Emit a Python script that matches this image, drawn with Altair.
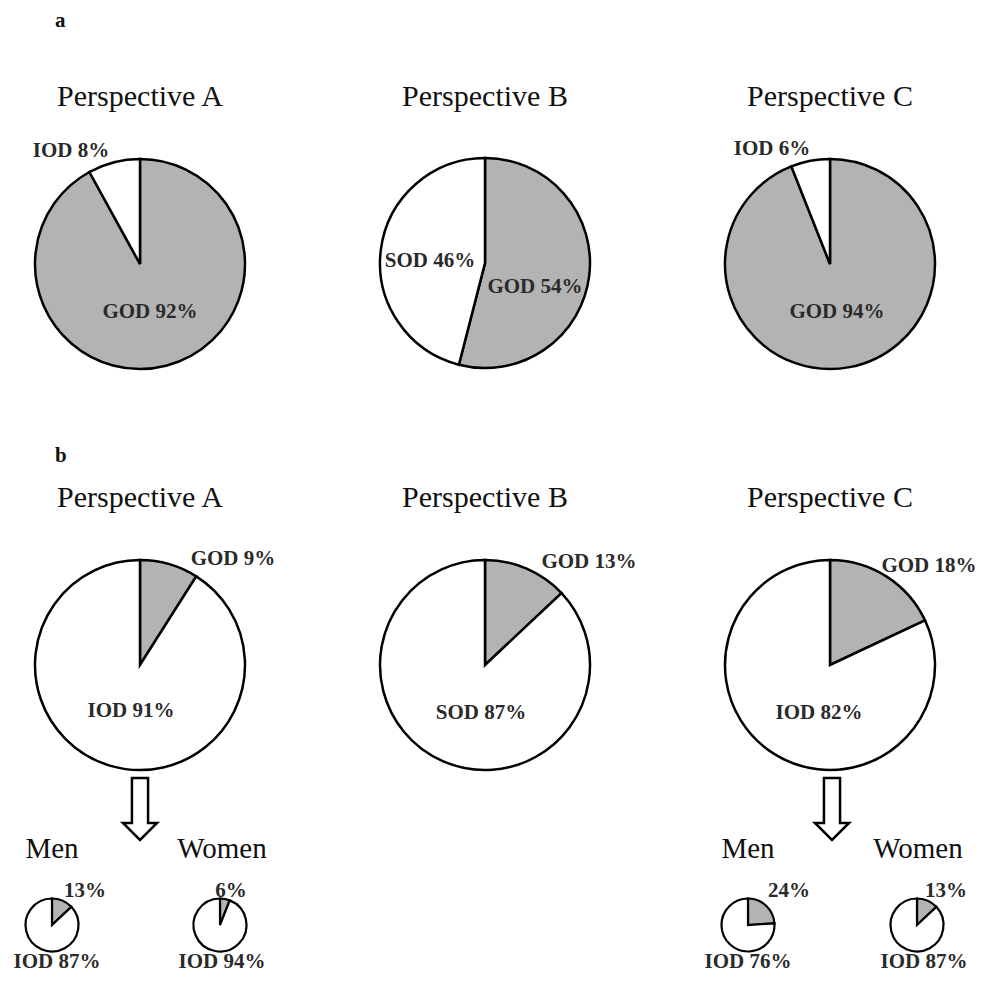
import altair as alt
import pandas as pd

# ---------------- data ----------------
top_a_cats = ["GOD", "IOD"]
top_a_vals = [92, 8]
top_b_cats = ["GOD", "SOD"]
top_b_vals = [54, 46]
top_c_cats = ["GOD", "IOD"]
top_c_vals = [94, 6]

bot_a_cats = ["GOD", "IOD"]
bot_a_vals = [9, 91]
bot_b_cats = ["GOD", "SOD"]
bot_b_vals = [13, 87]
bot_c_cats = ["GOD", "IOD"]
bot_c_vals = [18, 82]

men_a_vals = [13, 87]
women_a_vals = [6, 94]
men_c_vals = [24, 76]
women_c_vals = [13, 87]
small_cats = ["GOD", "IOD"]

panel_titles = ["Perspective A", "Perspective B", "Perspective C"]
group_titles = ["Men", "Women"]
panel_letters = ["a", "b"]

# ---------------- styling / layout ----------------
GREY = "#b3b3b3"
FONT = "Liberation Serif"
OFF = 8  # page margin
W, H = 971, 965


def px(v):
    return v - OFF


def pie_df(cats, vals, small=False):
    rows = []
    for i, (c, v) in enumerate(zip(cats, vals)):
        if small and c == "GOD":
            lab = f"{v}%"
        else:
            lab = f"{c} {v}%"
        rows.append({"cat": c, "val": v, "idx": i, "label": lab,
                     "fill": GREY if c == "GOD" else "white"})
    return pd.DataFrame(rows)


def pie(df, cx, cy, r, sw):
    return alt.Chart(df).mark_arc(radius=r, stroke="black", strokeWidth=sw).encode(
        theta=alt.Theta("val:Q", stack=True),
        order=alt.Order("idx:Q"),
        fill=alt.Fill("fill:N", scale=None),
        x=alt.value(px(cx)),
        y=alt.value(px(cy)),
    )


def label(df, cat, x, y, size=21):
    return alt.Chart(df).transform_filter(alt.datum.cat == cat).mark_text(
        font=FONT, fontSize=size, fontWeight="bold", color="#2a2a2a",
        align="center", baseline="alphabetic"
    ).encode(text="label:N", x=alt.value(px(x)), y=alt.value(px(y)))


def text(t, x, y, size=30, weight="normal", align="center"):
    return alt.Chart(pd.DataFrame({"t": [t]})).mark_text(
        font=FONT, fontSize=size, fontWeight=weight, color="#111111",
        align=align, baseline="alphabetic"
    ).encode(text="t:N", x=alt.value(px(x)), y=alt.value(px(y)))


ARROW = "M-0.26,-1 L0.26,-1 L0.26,0.45 L0.55,0.45 L0,1 L-0.55,0.45 L-0.26,0.45 Z"


def arrow(x, y):
    return alt.Chart(pd.DataFrame({"a": [0]})).mark_point(
        shape=ARROW, size=3844, filled=False, stroke="black", strokeWidth=2.5, opacity=1
    ).encode(x=alt.value(px(x)), y=alt.value(px(y)))


layers = []

# panel letters
layers.append(text(panel_letters[0], 55, 27, size=21, weight="bold", align="left"))
layers.append(text(panel_letters[1], 55, 462, size=21, weight="bold", align="left"))

# ---- row a ----
centers_x = [140, 485, 830]
for t, cx in zip(panel_titles, centers_x):
    layers.append(text(t, cx, 106))

d = pie_df(top_a_cats, top_a_vals)
layers += [pie(d, 140, 264, 105, 2.5), label(d, "IOD", 71, 157), label(d, "GOD", 150, 318)]
d = pie_df(top_b_cats, top_b_vals)
layers += [pie(d, 485, 263, 105, 2.5), label(d, "SOD", 430, 267), label(d, "GOD", 535, 293)]
d = pie_df(top_c_cats, top_c_vals)
layers += [pie(d, 830, 264, 105, 2.5), label(d, "IOD", 772, 155), label(d, "GOD", 837, 318)]

# ---- row b ----
for t, cx in zip(panel_titles, centers_x):
    layers.append(text(t, cx, 507))

d = pie_df(bot_a_cats, bot_a_vals)
layers += [pie(d, 140, 665, 105, 2.5), label(d, "GOD", 233, 565), label(d, "IOD", 131, 717)]
d = pie_df(bot_b_cats, bot_b_vals)
layers += [pie(d, 485, 665, 105, 2.5), label(d, "GOD", 589, 568), label(d, "SOD", 481, 719)]
d = pie_df(bot_c_cats, bot_c_vals)
layers += [pie(d, 830, 665, 105, 2.5), label(d, "GOD", 929, 572), label(d, "IOD", 819, 719)]

# arrows
layers += [arrow(140, 809), arrow(832, 809)]

# Men / Women labels
layers += [text(group_titles[0], 52, 858, size=29), text(group_titles[1], 222, 858, size=29),
           text(group_titles[0], 748, 858, size=29), text(group_titles[1], 918, 858, size=29)]

# small pies
BL = 968
d = pie_df(small_cats, men_a_vals, small=True)
layers += [pie(d, 52, 925, 26.5, 2.2), label(d, "GOD", 85, 897), label(d, "IOD", 57, BL)]
d = pie_df(small_cats, women_a_vals, small=True)
layers += [pie(d, 220, 925, 26.5, 2.2), label(d, "GOD", 231, 897), label(d, "IOD", 222, BL)]
d = pie_df(small_cats, men_c_vals, small=True)
layers += [pie(d, 748, 925, 26.5, 2.2), label(d, "GOD", 789, 897), label(d, "IOD", 748, BL)]
d = pie_df(small_cats, women_c_vals, small=True)
layers += [pie(d, 917, 925, 26.5, 2.2), label(d, "GOD", 946, 897), label(d, "IOD", 924, BL)]

chart = alt.layer(*layers).properties(
    width=W, height=H,
    autosize=alt.AutoSizeParams(type="none"),
    padding=0,
).resolve_scale(theta="independent").configure_view(stroke=None)

chart.save("out.html", embed_options={"renderer": "svg", "actions": False})
